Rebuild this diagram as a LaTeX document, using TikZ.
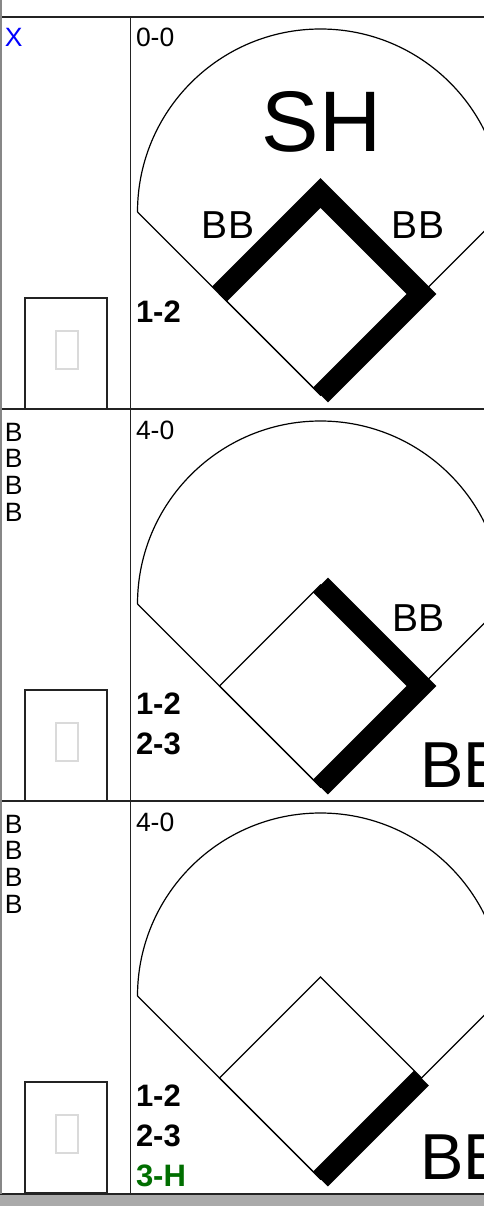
\documentclass[tikz,border=0pt]{standalone}
\usepackage{fontspec}
\setmainfont{Liberation Sans}
\definecolor{gridc}{RGB}{35,35,35}
\definecolor{edgec}{RGB}{135,135,135}
\definecolor{barc}{RGB}{170,170,170}
\definecolor{innerc}{RGB}{218,218,218}
\definecolor{outc}{RGB}{0,0,255}
\definecolor{runc}{RGB}{0,110,0}
\newcommand\myfs[1]{\fontsize{#1}{#1}\selectfont}
\begin{document}
\begin{tikzpicture}[x=1pt,y=-1pt,
  gridline/.style={draw=gridc,line width=1.5pt},
  fieldline/.style={draw=black,line width=1.2pt},
  runline/.style={draw=black,line width=21pt,line cap=butt,line join=miter},
  cardbox/.style={draw=gridc,line width=1.2pt,fill=white},
  innerbox/.style={draw=innerc,line width=1.3pt},
  txt/.style={inner sep=0pt,outer sep=0pt},
  pitch/.style={txt,anchor=base west,font=\myfs{26.5}},
  countlbl/.style={txt,anchor=base west,font=\myfs{26.5}},
  advlbl/.style={txt,anchor=base west,font=\bfseries\myfs{31}},
  hitlbl/.style={txt,anchor=base,font=\myfs{39}},
  bigres/.style={txt,anchor=base,font=\myfs{86}},
  bigbb/.style={txt,anchor=base west,font=\myfs{65}}]
\useasboundingbox (0,0) rectangle (484,1206);
\clip (0,0) rectangle (484,1206);
\fill[white] (0,0) rectangle (484,1206);

% ---------- row 1 ----------
\begin{scope}[shift={(0,17)}]
  \coordinate (h1) at (320.5,378);
  \coordinate (f1) at (421.5,277);
  \coordinate (s1) at (320.5,176);
  \coordinate (t1) at (219.5,277);
  \coordinate (lf1) at (137.5,195);
  \coordinate (rf1) at (503.5,195);
  \draw[fieldline] (lf1) arc[start angle=180,end angle=0,radius=183pt];
  \draw[fieldline] (lf1) -- (h1) -- (rf1);
  \draw[fieldline] (h1) -- (f1) -- (s1) -- (t1) -- cycle;
  \draw[runline] (h1) -- (f1) -- (s1) -- (t1);
  \node[bigres] (res1) at (321.5,135) {SH};
  \node[hitlbl] (bbl1) at (228,222) {BB};
  \node[hitlbl] (bbr1) at (418,222) {BB};
  \node[countlbl] (cnt1) at (136,30) {0-0};
  \node[advlbl] (adv1a) at (136,305) {1-2};
  \node[pitch,text=outc] (p1a) at (5,30) {X};
  \draw[cardbox] (25,392) rectangle (107,281);
  \draw[innerbox] (56,314) rectangle (78,352);
\end{scope}

% ---------- row 2 ----------
\begin{scope}[shift={(0,409)}]
  \coordinate (h2) at (320.5,378);
  \coordinate (f2) at (421.5,277);
  \coordinate (s2) at (320.5,176);
  \coordinate (t2) at (219.5,277);
  \coordinate (lf2) at (137.5,195);
  \coordinate (rf2) at (503.5,195);
  \draw[fieldline] (lf2) arc[start angle=180,end angle=0,radius=183pt];
  \draw[fieldline] (lf2) -- (h2) -- (rf2);
  \draw[fieldline] (h2) -- (f2) -- (s2) -- (t2) -- cycle;
  \draw[runline] (h2) -- (f2) -- (s2);
  \node[hitlbl] (bbr2) at (418.5,222) {BB};
  \node[bigbb] (res2) at (420,378) {BB};
  \node[countlbl] (cnt2) at (136,30) {4-0};
  \node[advlbl] (adv2a) at (136,305) {1-2};
  \node[advlbl] (adv2b) at (136,345) {2-3};
  \node[pitch] (p2a) at (5,32) {B};
  \node[pitch] (p2b) at (5,58.7) {B};
  \node[pitch] (p2c) at (5,85.4) {B};
  \node[pitch] (p2d) at (5,112) {B};
  \draw[cardbox] (25,392) rectangle (107,281);
  \draw[innerbox] (56,314) rectangle (78,352);
\end{scope}

% ---------- row 3 ----------
\begin{scope}[shift={(0,801)}]
  \coordinate (h3) at (320.5,378);
  \coordinate (f3) at (421.5,277);
  \coordinate (s3) at (320.5,176);
  \coordinate (t3) at (219.5,277);
  \coordinate (lf3) at (137.5,195);
  \coordinate (rf3) at (503.5,195);
  \draw[fieldline] (lf3) arc[start angle=180,end angle=0,radius=183pt];
  \draw[fieldline] (lf3) -- (h3) -- (rf3);
  \draw[fieldline] (h3) -- (f3) -- (s3) -- (t3) -- cycle;
  \draw[runline] (h3) -- (f3);
  \node[bigbb] (res3) at (420,378) {BB};
  \node[countlbl] (cnt3) at (136,30) {4-0};
  \node[advlbl] (adv3a) at (136,305) {1-2};
  \node[advlbl] (adv3b) at (136,345) {2-3};
  \node[advlbl,text=runc] (adv3c) at (136,385) {3-H};
  \node[pitch] (p3a) at (5,32) {B};
  \node[pitch] (p3b) at (5,58.7) {B};
  \node[pitch] (p3c) at (5,85.4) {B};
  \node[pitch] (p3d) at (5,112) {B};
  \draw[cardbox] (25,392) rectangle (107,281);
  \draw[innerbox] (56,314) rectangle (78,352);
\end{scope}

% ---------- grid ----------
\fill[barc] (0,1194) rectangle (484,1206);
\draw[gridline] (0,17) -- (484,17);
\draw[gridline] (0,409) -- (484,409);
\draw[gridline] (0,801) -- (484,801);
\draw[gridline] (0,1194) -- (484,1194);
\draw[gridline] (130.5,17) -- (130.5,1194);
\draw[draw=edgec,line width=1.5pt] (0.75,0) -- (0.75,1194);
\end{tikzpicture}
\end{document}
